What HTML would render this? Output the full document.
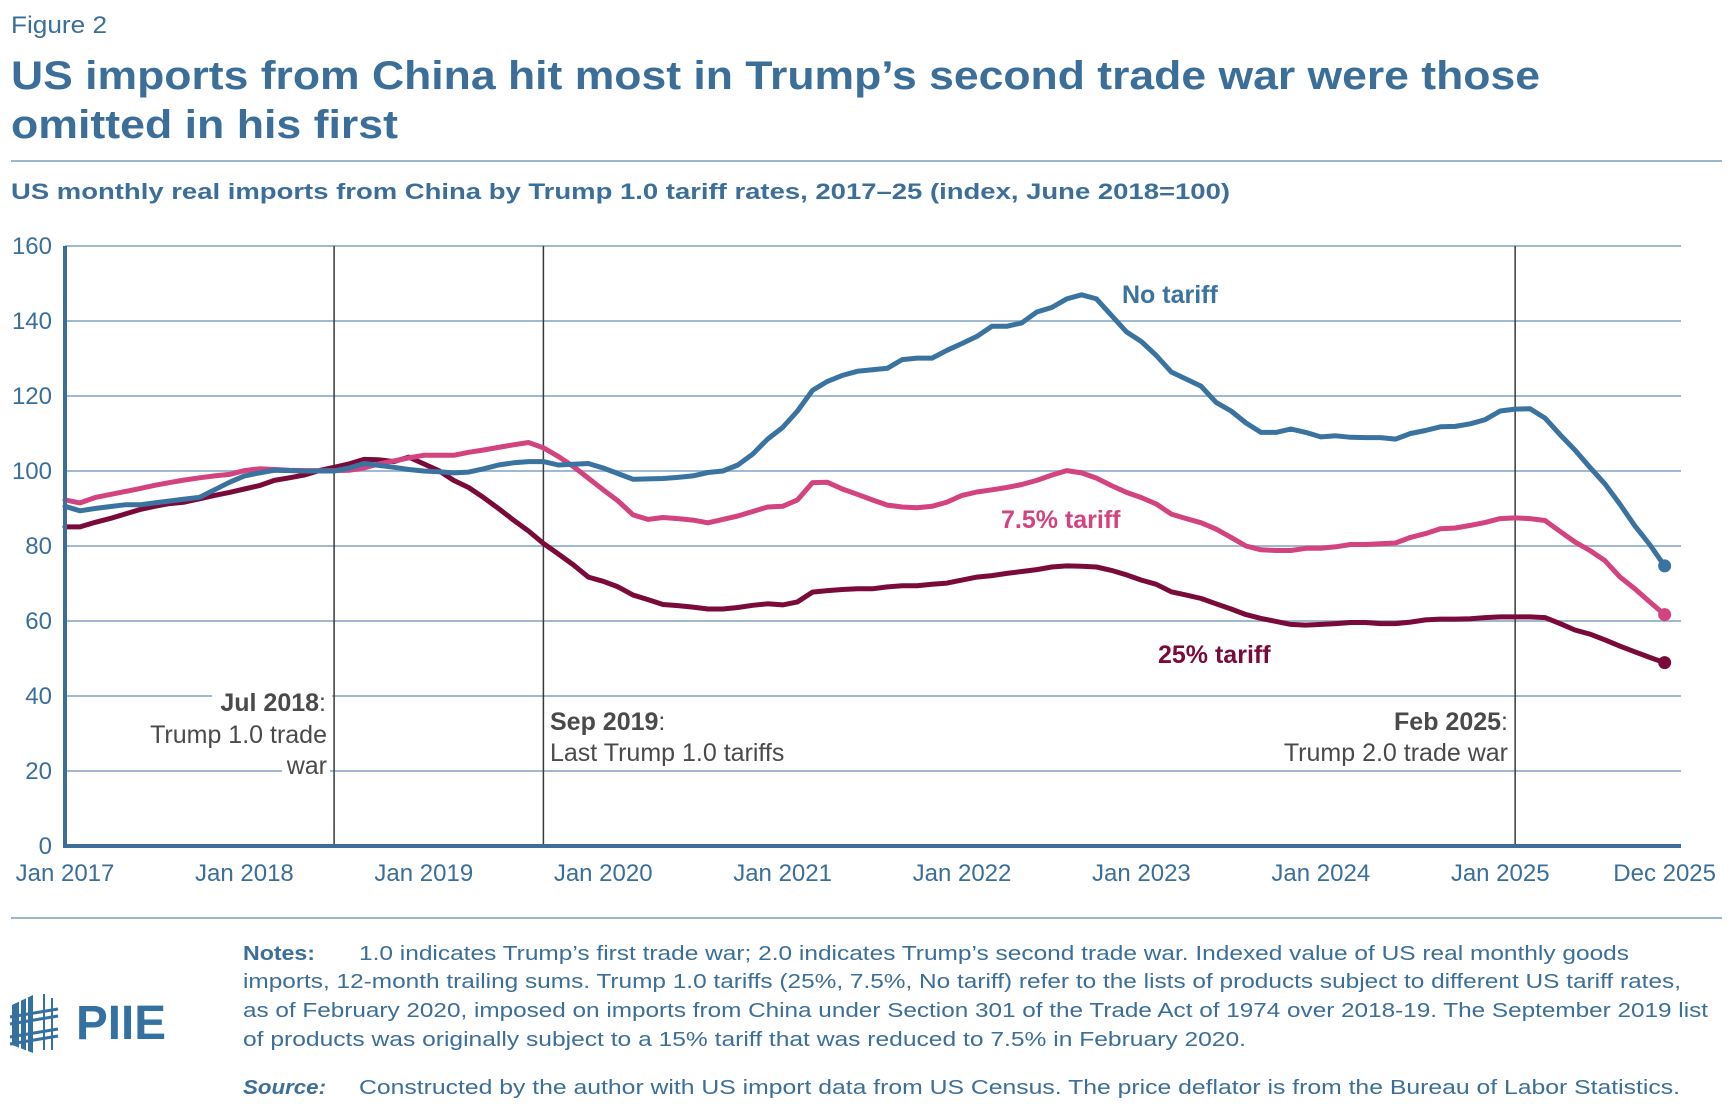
<!DOCTYPE html>
<html><head><meta charset="utf-8"><style>
html,body{margin:0;padding:0;background:#fff;}
svg{display:block;font-family:"Liberation Sans",sans-serif;}
</style></head><body>
<svg id="chart" width="1732" height="1110" viewBox="0 0 1732 1110" xmlns="http://www.w3.org/2000/svg">
<text x="11" y="33" font-size="24" fill="#3b6e99" textLength="96" lengthAdjust="spacingAndGlyphs">Figure 2</text>
<text x="11" y="89" font-size="40" font-weight="bold" fill="#3b6e99" textLength="1529" lengthAdjust="spacingAndGlyphs">US imports from China hit most in Trump’s second trade war were those</text>
<text x="11" y="138" font-size="40" font-weight="bold" fill="#3b6e99" textLength="387" lengthAdjust="spacingAndGlyphs">omitted in his first</text>
<line x1="11" y1="161" x2="1722" y2="161" stroke="#9bb6cc" stroke-width="2"/>
<text x="11" y="199" font-size="22" font-weight="bold" fill="#3b6e99" textLength="1219" lengthAdjust="spacingAndGlyphs">US monthly real imports from China by Trump 1.0 tariff rates, 2017–25 (index, June 2018=100)</text>
<g id="grid"></g>
<g id="annots"></g>
<g id="series"></g>
<g id="axes"></g>
<line x1="11" y1="918" x2="1722" y2="918" stroke="#9bb6cc" stroke-width="2"/>
<g fill="#3470a0">
<polygon points="12,1005 33,995 33,1053 12,1045"/>
<line x1="20" y1="1001" x2="20" y2="1049" stroke="#fff" stroke-width="2"/>
<line x1="27" y1="998" x2="27" y2="1051" stroke="#fff" stroke-width="2"/>
<line x1="44" y1="994" x2="44" y2="1050" stroke="#3470a0" stroke-width="2"/>
<line x1="52" y1="998" x2="52" y2="1050" stroke="#3470a0" stroke-width="2"/>
<line x1="10" y1="1017" x2="58" y2="1009" stroke="#3470a0" stroke-width="3"/>
<line x1="10" y1="1024" x2="58" y2="1016" stroke="#3470a0" stroke-width="3"/>
<line x1="10" y1="1037" x2="58" y2="1029" stroke="#3470a0" stroke-width="3"/>
<line x1="10" y1="1044" x2="58" y2="1036" stroke="#3470a0" stroke-width="3"/>
<text x="76" y="1039" font-size="48" font-weight="bold" textLength="90" lengthAdjust="spacingAndGlyphs">PIIE</text>
</g>
<g font-size="20" fill="#3b6e99">
<text x="243" y="960" font-weight="bold" textLength="72" lengthAdjust="spacingAndGlyphs">Notes:</text>
<text x="359" y="960" textLength="1270" lengthAdjust="spacingAndGlyphs">1.0 indicates Trump’s first trade war; 2.0 indicates Trump’s second trade war. Indexed value of US real monthly goods</text>
<text x="243" y="988" textLength="1438" lengthAdjust="spacingAndGlyphs">imports, 12-month trailing sums. Trump 1.0 tariffs (25%, 7.5%, No tariff) refer to the lists of products subject to different US tariff rates,</text>
<text x="243" y="1017" textLength="1465" lengthAdjust="spacingAndGlyphs">as of February 2020, imposed on imports from China under Section 301 of the Trade Act of 1974 over 2018-19. The September 2019 list</text>
<text x="243" y="1046" textLength="1003" lengthAdjust="spacingAndGlyphs">of products was originally subject to a 15% tariff that was reduced to 7.5% in February 2020.</text>
<text x="243" y="1094" font-weight="bold" font-style="italic" textLength="83" lengthAdjust="spacingAndGlyphs">Source:</text>
<text x="359" y="1094" textLength="1321" lengthAdjust="spacingAndGlyphs">Constructed by the author with US import data from US Census. The price deflator is from the Bureau of Labor Statistics.</text>
</g>
</svg>
<script>
const yTicks = [0,20,40,60,80,100,120,140,160];
const xTickMonths = [0,12,24,36,48,60,72,84,96,107];
const xTickLabels = ["Jan 2017","Jan 2018","Jan 2019","Jan 2020","Jan 2021","Jan 2022","Jan 2023","Jan 2024","Jan 2025","Dec 2025"];
const noTariff = [90.6,89.4,90,90.5,91,91,91.5,92,92.5,93,95,97,98.7,99.5,100.2,100.1,100,100,100,100.8,102,101.5,101,100.4,100,99.8,99.5,99.7,100.6,101.6,102.2,102.5,102.5,101.6,101.8,102,100.8,99.3,97.8,97.9,98,98.3,98.7,99.6,100,101.6,104.5,108.5,111.6,116,121.5,123.9,125.5,126.6,127,127.4,129.7,130.1,130.1,132.2,134,135.9,138.6,138.6,139.5,142.4,143.6,145.9,147,145.9,141.5,137.1,134.5,130.8,126.4,124.5,122.6,118.3,116,112.8,110.3,110.3,111.2,110.3,109.1,109.4,109,108.9,108.9,108.5,110,110.8,111.8,111.9,112.6,113.7,116,116.5,116.6,114.1,109.7,105.6,101,96.6,91.2,85.4,80.4,74.7];
const tariff75 = [92.3,91.5,92.9,93.7,94.5,95.3,96.2,96.9,97.6,98.2,98.7,99.1,100.1,100.6,100.4,100.2,100.1,100.1,100.1,100.2,100.8,101.9,102.7,103.5,104.2,104.2,104.2,105,105.6,106.3,107,107.6,106.2,103.9,101.2,98.1,95,92,88.3,87.1,87.6,87.3,86.9,86.2,87.1,88,89.2,90.4,90.6,92.3,96.9,97,95.2,93.8,92.3,90.9,90.4,90.2,90.6,91.7,93.5,94.4,95,95.6,96.4,97.5,98.9,100.1,99.5,98.1,96.1,94.3,92.9,91.2,88.5,87.3,86.2,84.5,82.3,80,79,78.8,78.8,79.4,79.4,79.8,80.4,80.4,80.6,80.8,82.3,83.3,84.6,84.8,85.5,86.3,87.3,87.5,87.3,86.8,83.9,81.1,78.8,76.1,71.8,68.6,65.1,61.7];
const tariff25 = [85.1,85.1,86.3,87.3,88.5,89.7,90.6,91.3,91.7,92.6,93.5,94.3,95.2,96.1,97.5,98.2,98.9,100.1,101,101.9,103.1,103,102.5,103.7,101.9,100.1,97.5,95.6,92.9,90,86.9,84,80.7,77.9,75,71.7,70.6,69.1,66.9,65.7,64.4,64.1,63.7,63.2,63.2,63.6,64.2,64.6,64.3,65.1,67.7,68.1,68.4,68.6,68.6,69.1,69.4,69.4,69.8,70.1,70.9,71.7,72.1,72.7,73.2,73.7,74.4,74.7,74.6,74.4,73.5,72.3,70.9,69.8,67.8,66.9,66,64.6,63.2,61.7,60.7,59.9,59.1,58.9,59.1,59.3,59.6,59.6,59.3,59.3,59.7,60.3,60.5,60.5,60.6,60.9,61.1,61.1,61.1,60.9,59.3,57.6,56.5,55,53.3,51.8,50.3,48.9];
const eventMonths = [18,32,97];

const NS = "http://www.w3.org/2000/svg";
const X0 = 65, XSTEP = 14.95, Y0 = 846, YSCALE = 3.75;
function xScale(m){ return X0 + m*XSTEP; }
function yScale(v){ return Y0 - v*YSCALE; }
function mk(tag, attrs, parent, text){
  const e = document.createElementNS(NS, tag);
  for (const k in attrs) e.setAttribute(k, attrs[k]);
  if (text !== undefined) e.textContent = text;
  parent.appendChild(e);
  return e;
}
const grid = document.getElementById('grid');
const axes = document.getElementById('axes');
const annots = document.getElementById('annots');
const series = document.getElementById('series');

yTicks.forEach(v => {
  if (v > 0) {
    const l = mk('line', {x1:X0, x2:1681, y1:yScale(v), y2:yScale(v), stroke:'#9fbad0', 'stroke-width':2}, grid);
    
    
  }
  const t = mk('text', {x:52, y:yScale(v)+8, 'text-anchor':'end', 'font-size':24, fill:'#3b6e99'}, axes, String(v));
  
  
});
xTickMonths.forEach((m, i) => {
  const t = mk('text', {x:xScale(m), y:881, 'text-anchor':'middle', 'font-size':24, fill:'#3b6e99'}, axes, xTickLabels[i]);
  
  
});
eventMonths.forEach(m => {
  const l = mk('line', {x1:xScale(m), x2:xScale(m), y1:yScale(160), y2:Y0, stroke:'#3a3a3a', 'stroke-width':1.5}, annots);
  
  
});
const ann = [
  {rect:[212,683,120,36], lines:[{x:326,y:711,a:'end',b:'Jul 2018',t:':'}]},
  {rect:[124,716,206,32], lines:[{x:327,y:743,a:'end',t:'Trump 1.0 trade'}]},
  {rect:[282,747,48,32], lines:[{x:327,y:774,a:'end',t:'war'}]},
  {rect:[548,703,100,34], lines:[{x:550,y:730,a:'start',b:'Sep 2019',t:':'}]},
  {rect:[1380,703,126,34], lines:[{x:1508,y:730,a:'end',b:'Feb 2025',t:':'}]},
];
ann.forEach(a => {
  const r = mk('rect', {x:a.rect[0], y:a.rect[1], width:a.rect[2], height:a.rect[3], fill:'#fff'}, annots);
  
  
  a.lines.forEach(L => {
    const t = mk('text', {x:L.x, y:L.y, 'text-anchor':L.a, 'font-size':25, fill:'#4a4a4a'}, annots);
    
    
    if (L.b) mk('tspan', {'font-weight':'bold'}, t, L.b);
    mk('tspan', {}, t, L.t);
  });
});
const t2 = mk('text', {x:550, y:761, 'font-size':25, fill:'#4a4a4a'}, annots, 'Last Trump 1.0 tariffs');


const t3 = mk('text', {x:1508, y:761, 'text-anchor':'end', 'font-size':25, fill:'#4a4a4a'}, annots, 'Trump 2.0 trade war');



const defs = [
  {d:tariff25, c:'#7a0a3a', n:'series-25-tariff', label:'25% tariff', lx:1158, ly:663},
  {d:tariff75, c:'#d2437f', n:'series-7-5-tariff', label:'7.5% tariff', lx:1001, ly:528},
  {d:noTariff, c:'#3b73a0', n:'series-no-tariff', label:'No tariff', lx:1122, ly:303},
];
defs.forEach(s => {
  const pts = s.d.map((v,i) => xScale(i).toFixed(1)+','+yScale(v).toFixed(1)).join(' ');
  const p = mk('polyline', {points:pts, fill:'none', stroke:s.c, 'stroke-width':5, 'stroke-linejoin':'round', 'stroke-linecap':'round'}, series);
  
  
  const last = s.d.length - 1;
  const c = mk('circle', {cx:xScale(last), cy:yScale(s.d[last]), r:6.5, fill:s.c}, series);
  
  
  const t = mk('text', {x:s.lx, y:s.ly, 'font-size':25, 'font-weight':'bold', fill:s.c}, series, s.label);
  
  
});
const ya = mk('line', {x1:X0, x2:X0, y1:yScale(160), y2:Y0+2, stroke:'#3b6e99', 'stroke-width':4}, axes);


const xa = mk('line', {x1:X0-2, x2:1681, y1:Y0, y2:Y0, stroke:'#3b6e99', 'stroke-width':4}, axes);


</script>
</body></html>
